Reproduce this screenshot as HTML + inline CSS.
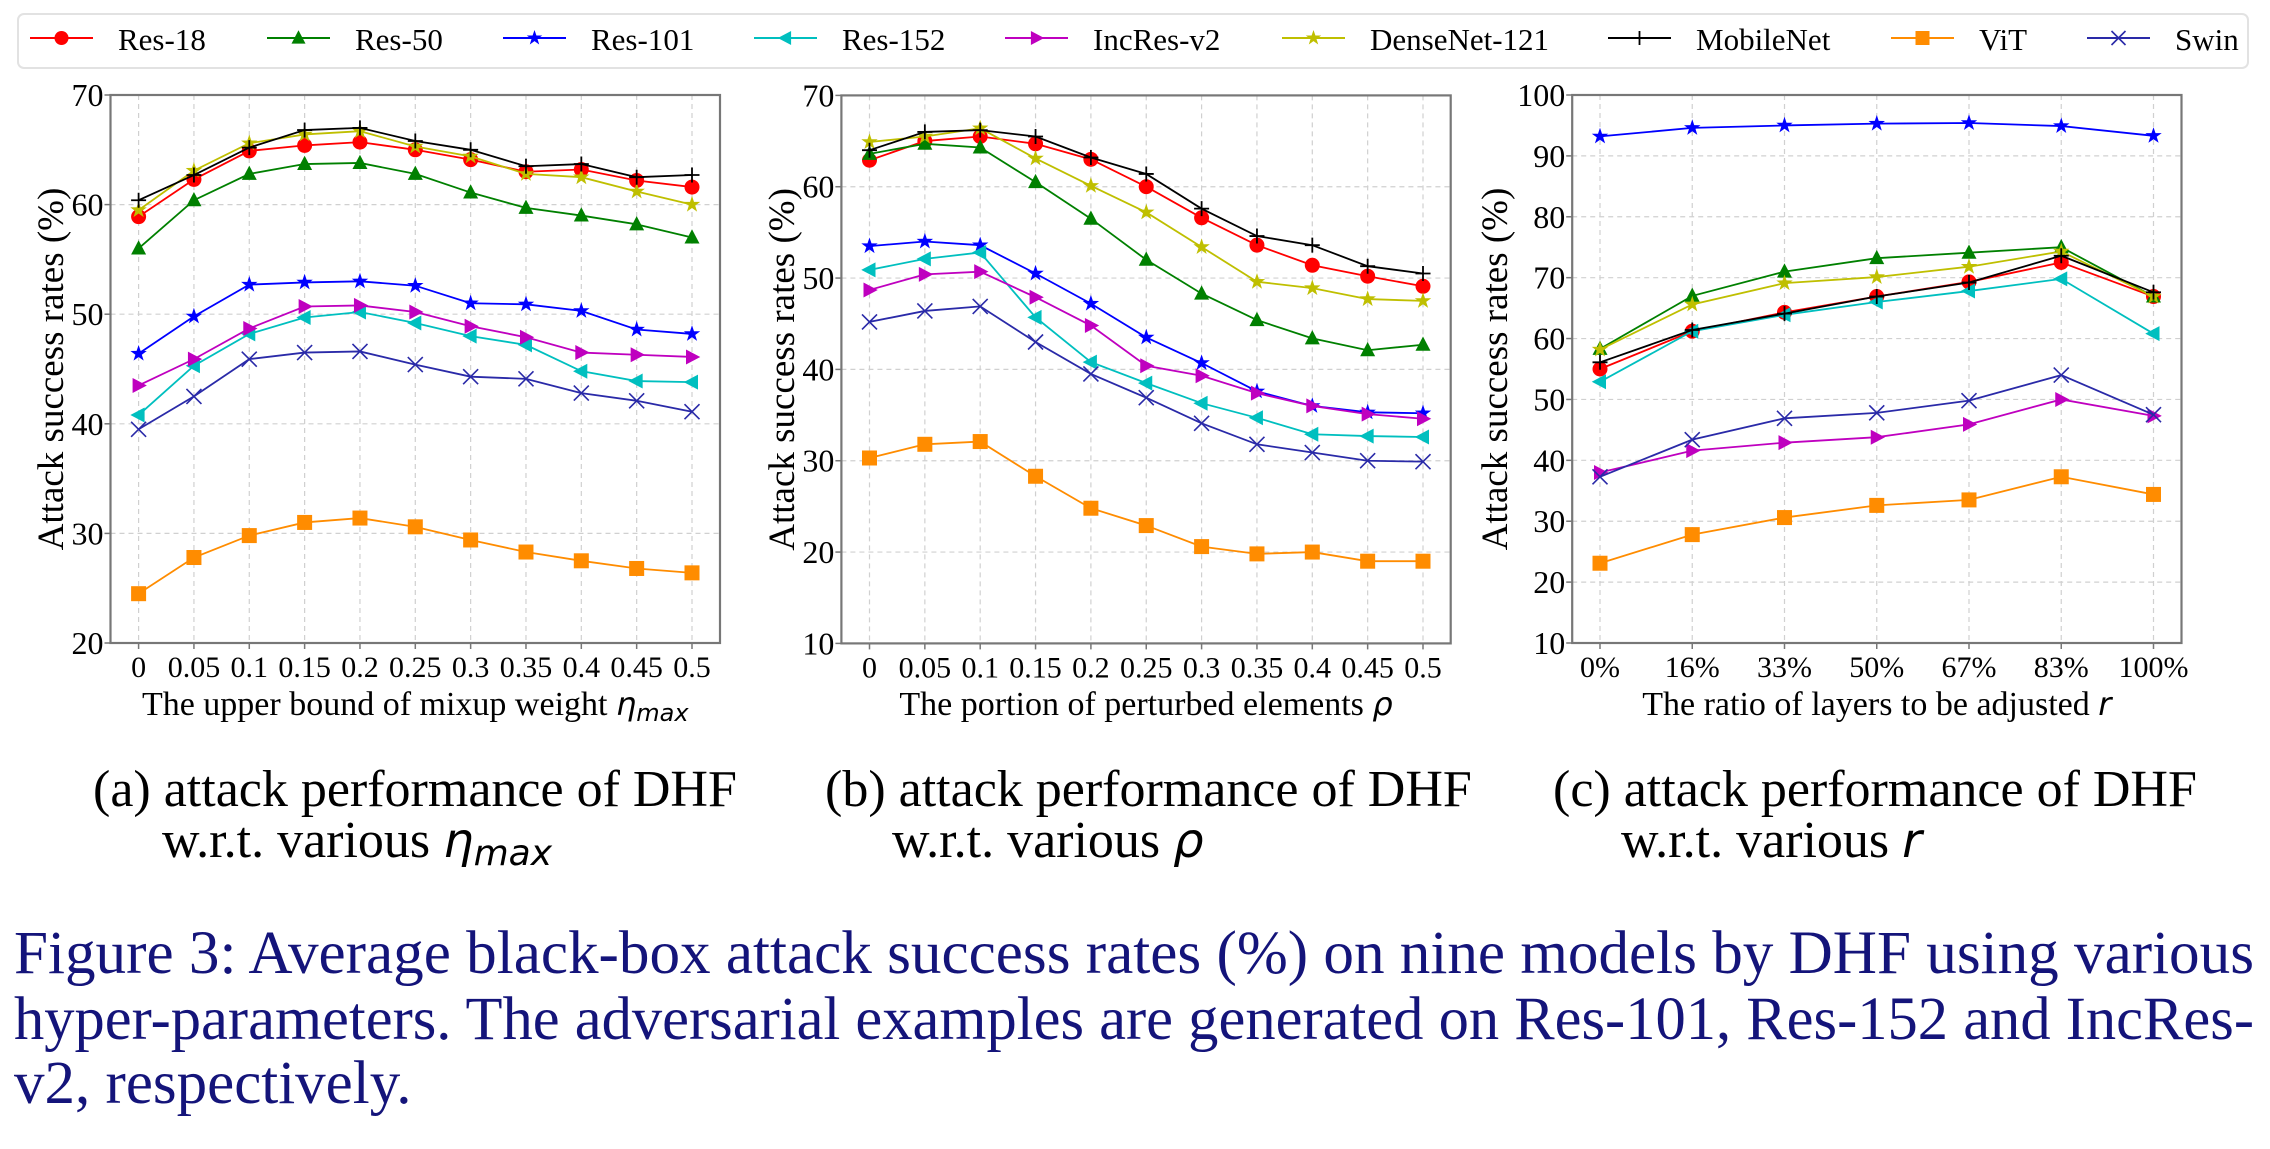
<!DOCTYPE html>
<html><head><meta charset="utf-8"><style>
html,body{margin:0;padding:0;background:#fff;}
svg text{font-family:"Liberation Serif",serif;}
.m{font-family:"DejaVu Sans",sans-serif;font-style:italic;}
</style></head><body>
<svg id="fig" xmlns="http://www.w3.org/2000/svg" width="2270" height="1144" viewBox="0 0 2270 1144">
<rect width="2270" height="1144" fill="#fff"/>
<g id="legend">
<rect x="18" y="14" width="2230" height="54" rx="6" fill="#fff" stroke="#e2e2e2" stroke-width="2"/>
</g>
<g id="charts"></g>
<g font-size="52">
<text x="93" y="806">(a) attack performance of DHF</text>
<text x="162" y="857">w.r.t. various <tspan class="m" font-size="48">η</tspan><tspan class="m" font-size="36" dy="8">max</tspan></text>
</g>
<g font-size="52">
<text x="825" y="806">(b) attack performance of DHF</text>
<text x="892" y="857">w.r.t. various <tspan class="m" font-size="48">ρ</tspan></text>
</g>
<g font-size="52">
<text x="1553" y="806">(c) attack performance of DHF</text>
<text x="1621" y="857">w.r.t. various <tspan class="m" font-size="48">r</tspan></text>
</g>
<g font-size="61" fill="#14147a">
<text x="14" y="973" textLength="2240" lengthAdjust="spacingAndGlyphs">Figure 3: Average black-box attack success rates (%) on nine models by DHF using various</text>
<text x="14" y="1039" textLength="2240" lengthAdjust="spacingAndGlyphs">hyper-parameters. The adversarial examples are generated on Res-101, Res-152 and IncRes-</text>
<text x="14" y="1103">v2, respectively.</text>
</g>
</svg>
<script>
const seriesNames=["Res-18","Res-50","Res-101","Res-152","IncRes-v2","DenseNet-121","MobileNet","ViT","Swin"];
const xCatsA=["0","0.05","0.1","0.15","0.2","0.25","0.3","0.35","0.4","0.45","0.5"];
const xCatsB=["0","0.05","0.1","0.15","0.2","0.25","0.3","0.35","0.4","0.45","0.5"];
const xCatsC=["0%","16%","33%","50%","67%","83%","100%"];
const yTicksA=[20,30,40,50,60,70];
const yTicksB=[10,20,30,40,50,60,70];
const yTicksC=[10,20,30,40,50,60,70,80,90,100];
const valsA_res18=[58.9,62.3,64.9,65.4,65.7,65.0,64.1,63.0,63.2,62.2,61.6];
const valsA_res50=[56.0,60.4,62.8,63.7,63.8,62.8,61.1,59.7,59.0,58.2,57.0];
const valsA_res101=[46.4,49.8,52.7,52.9,53.0,52.6,51.0,50.9,50.3,48.6,48.2];
const valsA_res152=[40.8,45.3,48.2,49.7,50.2,49.2,48.0,47.2,44.8,43.9,43.8];
const valsA_incres=[43.5,45.9,48.7,50.7,50.8,50.2,48.9,47.9,46.5,46.3,46.1];
const valsA_dense=[59.5,63.1,65.6,66.4,66.7,65.3,64.4,62.8,62.5,61.2,60.0];
const valsA_mobile=[60.4,62.7,65.2,66.8,67.0,65.8,65.0,63.5,63.7,62.5,62.7];
const valsA_vit=[24.5,27.8,29.8,31.0,31.4,30.6,29.4,28.3,27.5,26.8,26.4];
const valsA_swin=[39.5,42.5,45.9,46.5,46.6,45.4,44.3,44.1,42.8,42.1,41.1];
const valsB_res18=[62.9,65.0,65.5,64.7,63.0,60.0,56.6,53.6,51.4,50.2,49.1];
const valsB_res50=[63.6,64.7,64.3,60.5,56.5,52.0,48.3,45.4,43.4,42.1,42.7];
const valsB_res101=[53.5,54.0,53.6,50.5,47.2,43.5,40.7,37.6,36.0,35.3,35.2];
const valsB_res152=[50.9,52.1,52.8,45.7,40.8,38.5,36.3,34.7,32.9,32.7,32.6];
const valsB_incres=[48.7,50.4,50.7,47.9,44.8,40.4,39.3,37.4,36.0,35.1,34.6];
const valsB_dense=[64.9,65.5,66.4,63.1,60.1,57.2,53.4,49.6,48.9,47.7,47.5];
const valsB_mobile=[64.0,66.0,66.2,65.5,63.2,61.4,57.6,54.6,53.6,51.3,50.5];
const valsB_vit=[30.3,31.8,32.1,28.3,24.8,22.9,20.6,19.8,20.0,19.0,19.0];
const valsB_swin=[45.2,46.4,46.9,43.0,39.5,36.9,34.1,31.8,30.9,30.0,29.9];
const valsC_res18=[55.0,61.2,64.3,66.9,69.3,72.5,66.9];
const valsC_res50=[58.3,67.0,71.0,73.2,74.1,75.0,66.9];
const valsC_res101=[93.2,94.6,95.0,95.3,95.4,94.9,93.3];
const valsC_res152=[52.9,61.2,63.9,66.0,67.8,69.8,60.8];
const valsC_incres=[38.0,41.6,42.9,43.8,45.9,50.0,47.3];
const valsC_dense=[58.2,65.6,69.1,70.1,71.8,74.3,66.9];
const valsC_mobile=[56.1,61.4,64.1,66.9,69.2,73.6,67.6];
const valsC_vit=[23.1,27.8,30.6,32.6,33.5,37.3,34.4];
const valsC_swin=[37.3,43.4,46.9,47.8,49.8,54.0,47.5];

const NS="http://www.w3.org/2000/svg";
const styles=[
 {c:"#ff0000",m:"circle"},{c:"#008000",m:"tri-up"},{c:"#0000ff",m:"star"},
 {c:"#00bfbf",m:"tri-left"},{c:"#bf00bf",m:"tri-right"},{c:"#bfbf00",m:"star"},
 {c:"#000000",m:"plus"},{c:"#ff8c00",m:"square"},{c:"#2a2aa8",m:"x"}];
function el(t,a,p){const e=document.createElementNS(NS,t);for(const k in a)e.setAttribute(k,a[k]);if(p)p.appendChild(e);return e;}
function marker(g,type,x,y,c,s){
 s=s||7;let e;
 if(type==="circle")e=el("circle",{cx:x,cy:y,r:s,fill:c},g);
 else if(type==="square")e=el("rect",{x:x-s,y:y-s,width:2*s,height:2*s,fill:c},g);
 else if(type==="tri-up")e=el("polygon",{points:`${x},${y-s*1.1} ${x-s},${y+s*0.8} ${x+s},${y+s*0.8}`,fill:c},g);
 else if(type==="tri-left")e=el("polygon",{points:`${x-s*1.1},${y} ${x+s*0.8},${y-s} ${x+s*0.8},${y+s}`,fill:c},g);
 else if(type==="tri-right")e=el("polygon",{points:`${x+s*1.1},${y} ${x-s*0.8},${y-s} ${x-s*0.8},${y+s}`,fill:c},g);
 else if(type==="star"){let p=[];for(let i=0;i<10;i++){const r=i%2?s*0.45:s*1.15;const a=-Math.PI/2+i*Math.PI/5;p.push((x+r*Math.cos(a)).toFixed(1)+","+(y+r*Math.sin(a)).toFixed(1));}e=el("polygon",{points:p.join(" "),fill:c},g);}
 else if(type==="plus")e=el("path",{d:`M${x-s} ${y}H${x+s}M${x} ${y-s}V${y+s}`,stroke:c,"stroke-width":1.8,fill:"none"},g);
 else if(type==="x")e=el("path",{d:`M${x-s} ${y-s}L${x+s} ${y+s}M${x-s} ${y+s}L${x+s} ${y-s}`,stroke:c,"stroke-width":1.6,fill:"none"},g);
 return e;
}
const legendX=[30,267,503,754,1005,1282,1608,1891,2087];
const lg=document.getElementById("legend");
seriesNames.forEach((n,i)=>{
 const g=el("g",{},lg);
 
 
 const x=legendX[i];
 el("line",{x1:x,y1:38,x2:x+63,y2:38,stroke:styles[i].c,"stroke-width":2},g);
 marker(g,styles[i].m,x+31.5,38,styles[i].c,7);
 const t=el("text",{x:x+88,y:50,"font-size":31},g);t.textContent=n;
});
function chart(id,box,xCats,yTicks,series,xlabelMain,xlabelSym,xlabelSub){
 const root=document.getElementById("charts");
 const g=el("g",{},root);
 
 
 const ymin=yTicks[0],ymax=yTicks[yTicks.length-1];
 const ys=v=>box.b-(v-ymin)/(ymax-ymin)*(box.b-box.t);
 const xs=i=>box.x0+i*(box.x1-box.x0)/(xCats.length-1);
 yTicks.forEach(v=>{
  el("line",{x1:box.l,x2:box.r,y1:ys(v),y2:ys(v),stroke:"#d0d0d0","stroke-width":1.2,"stroke-dasharray":"5,4"},g);
  el("line",{x1:box.l-6,x2:box.l,y1:ys(v),y2:ys(v),stroke:"#777","stroke-width":1.5},g);
  const t=el("text",{x:box.l-7,y:ys(v)+11,"font-size":32,"text-anchor":"end"},g);t.textContent=v;
 });
 xCats.forEach((c,i)=>{
  el("line",{x1:xs(i),x2:xs(i),y1:box.t,y2:box.b,stroke:"#d0d0d0","stroke-width":1.2,"stroke-dasharray":"5,4"},g);
  el("line",{x1:xs(i),x2:xs(i),y1:box.b,y2:box.b+6,stroke:"#777","stroke-width":1.5},g);
  const t=el("text",{x:xs(i),y:box.b+34,"font-size":30,"text-anchor":"middle"},g);t.textContent=c;
 });
 series.forEach((vals,si)=>{
  const sg=el("g",{},g);
  
  
  el("polyline",{points:vals.map((v,i)=>xs(i)+","+ys(v)).join(" "),fill:"none",stroke:styles[si].c,"stroke-width":1.8},sg);
  vals.forEach((v,i)=>marker(sg,styles[si].m,xs(i),ys(v),styles[si].c,7.5));
 });
 el("rect",{x:box.l,y:box.t,width:box.r-box.l,height:box.b-box.t,fill:"none",stroke:"#777","stroke-width":2.2},g);
 const yl=el("text",{x:0,y:0,"font-size":37,"text-anchor":"middle",transform:`translate(${box.yl},${(box.t+box.b)/2}) rotate(-90)`},g);
 yl.textContent="Attack success rates (%)";
 
 
 const xl=el("text",{x:(box.l+box.r)/2,y:715,"font-size":34,"text-anchor":"middle"},g);
 
 
 xl.appendChild(document.createTextNode(xlabelMain+" "));
 const s1=el("tspan",{class:"m","font-size":32},xl);s1.textContent=xlabelSym;
 if(xlabelSub){const s2=el("tspan",{class:"m","font-size":24,dy:6},xl);s2.textContent=xlabelSub;}
}
chart("a",{l:110.5,r:720,t:95,b:643,x0:138.6,x1:692,yl:63},xCatsA,yTicksA,
 [valsA_res18,valsA_res50,valsA_res101,valsA_res152,valsA_incres,valsA_dense,valsA_mobile,valsA_vit,valsA_swin],
 "The upper bound of mixup weight","η","max");
chart("b",{l:841.4,r:1450.7,t:95.4,b:643.4,x0:869.5,x1:1423,yl:794},xCatsB,yTicksB,
 [valsB_res18,valsB_res50,valsB_res101,valsB_res152,valsB_incres,valsB_dense,valsB_mobile,valsB_vit,valsB_swin],
 "The portion of perturbed elements","ρ","");
chart("c",{l:1572.2,r:2181.5,t:95,b:643,x0:1600,x1:2153.5,yl:1507},xCatsC,yTicksC,
 [valsC_res18,valsC_res50,valsC_res101,valsC_res152,valsC_incres,valsC_dense,valsC_mobile,valsC_vit,valsC_swin],
 "The ratio of layers to be adjusted","r","");
</script>
</body></html>
